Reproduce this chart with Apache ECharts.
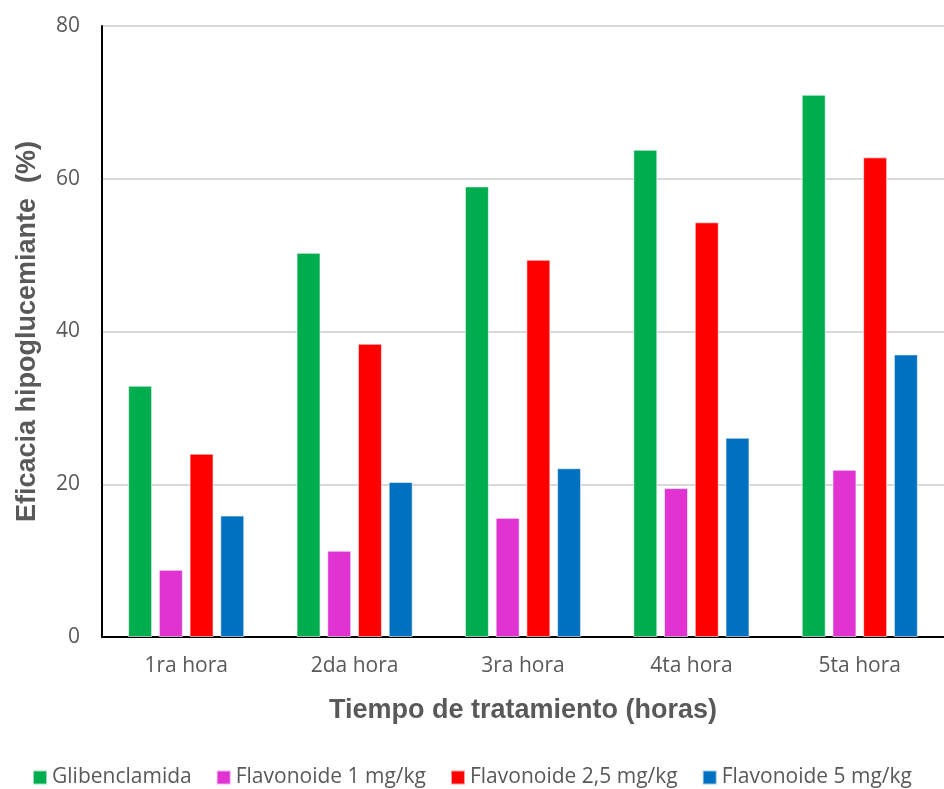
<!DOCTYPE html>
<html>
<head>
<meta charset="utf-8">
<script src="https://cdn.jsdelivr.net/npm/echarts@6/dist/echarts.min.js"></script>
<style>
  html, body { margin: 0; padding: 0; background: #fff; }
  #chart { width: 944px; height: 789px; }
</style>
</head>
<body>
<div id="chart"></div>
<script>
// Hypoglycemic efficacy (%) per hour of treatment
const categories = ['1ra hora', '2da hora', '3ra hora', '4ta hora', '5ta hora'];
const glibenclamida = [32.9, 50.3, 59.0, 63.8, 71.0];
const flavonoide1 = [8.8, 11.3, 15.6, 19.5, 21.9];
const flavonoide25 = [24.0, 38.4, 49.4, 54.3, 62.8];
const flavonoide5 = [15.9, 20.3, 22.1, 26.1, 37.0];
const yTicks = [0, 20, 40, 60, 80];

const seriesDefs = [
  { name: 'Glibenclamida', data: glibenclamida, color: '#00AD4E' },
  { name: 'Flavonoide 1 mg/kg', data: flavonoide1, color: '#E033D1' },
  { name: 'Flavonoide 2,5 mg/kg', data: flavonoide25, color: '#FF0000' },
  { name: 'Flavonoide 5 mg/kg', data: flavonoide5, color: '#0070C0' }
];

const chart = echarts.init(document.getElementById('chart'), null, { renderer: 'canvas' });
const labelFont = '"Open Sans", "Liberation Sans", sans-serif';
const titleFont = '"Liberation Sans", Arial, sans-serif';

chart.setOption({
  animation: false,
  backgroundColor: '#ffffff',
  grid: { left: 102, right: 0, top: 26, bottom: 152 },
  legend: {
    top: 762,
    left: 'center',
    itemWidth: 14,
    itemHeight: 14,
    itemGap: 24,
    icon: 'rect',
    textStyle: { color: '#595959', fontSize: 21, fontFamily: labelFont },
    data: seriesDefs.map(s => s.name)
  },
  xAxis: {
    type: 'category',
    data: categories,
    name: 'Tiempo de tratamiento (horas)',
    nameLocation: 'middle',
    nameGap: 60,
    nameTextStyle: { color: '#595959', fontSize: 27, fontWeight: 'bold', fontFamily: titleFont },
    axisLine: { lineStyle: { color: '#000000', width: 2 } },
    axisTick: { show: false },
    axisLabel: { color: '#595959', fontSize: 21, fontFamily: labelFont, margin: 19 }
  },
  yAxis: {
    type: 'value',
    min: yTicks[0],
    max: yTicks[yTicks.length - 1],
    interval: 20,
    name: 'Eficacia hipoglucemiante  (%)',
    nameLocation: 'middle',
    nameGap: 61,
    nameRotate: 90,
    nameTextStyle: { color: '#595959', fontSize: 27, fontWeight: 'bold', fontFamily: titleFont },
    axisLine: { show: true, lineStyle: { color: '#000000', width: 2 } },
    axisTick: { show: false },
    splitLine: { lineStyle: { color: '#D9D9D9', width: 2 } },
    axisLabel: { color: '#595959', fontSize: 21, fontFamily: labelFont, margin: 22 }
  },
  series: seriesDefs.map(s => ({
    type: 'bar',
    name: s.name,
    data: s.data,
    barWidth: 24,
    barGap: '28%',
    itemStyle: { color: s.color, borderColor: 'rgba(255,255,255,0.6)', borderWidth: 1 }
  }))
});
</script>
</body>
</html>
